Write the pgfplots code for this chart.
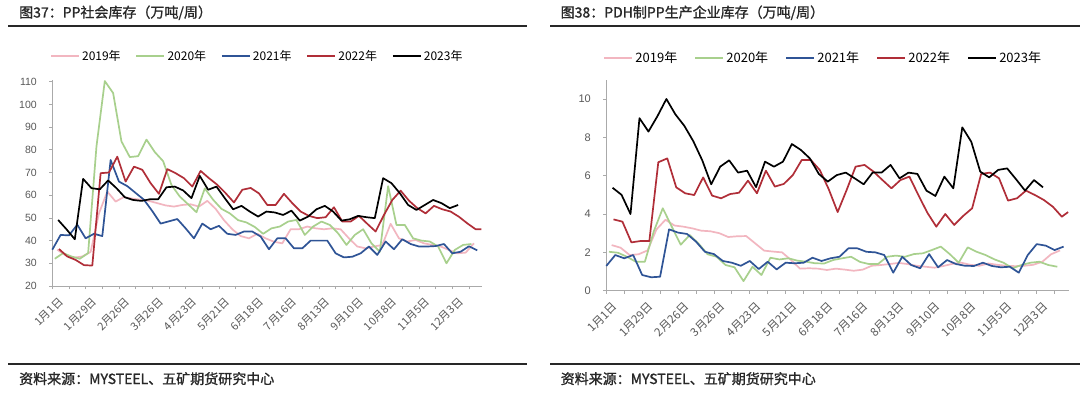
\documentclass[border=0pt]{standalone}
\usepackage{fontspec}
\setmainfont{Liberation Sans}
\newfontfamily\cjk{Noto Sans CJK SC}
\newfontfamily\cjkt[FakeBold=1.3]{Noto Sans CJK SC}
\usepackage{pgfplots}
\pgfplotsset{compat=1.18}
\definecolor{c19}{RGB}{242,182,192}
\definecolor{c20}{RGB}{168,208,141}
\definecolor{c21}{RGB}{47,84,150}
\definecolor{c22}{RGB}{176,46,56}
\definecolor{c23}{RGB}{0,0,0}
\definecolor{axgray}{RGB}{170,170,170}
\definecolor{tkgray}{RGB}{89,89,89}
\definecolor{ttl}{RGB}{40,40,40}
\pgfplotsset{
 mystyle/.style={
  scale only axis, axis lines*=left, clip=false,
  axis line style={draw=axgray, line width=0.8pt},
  tick style={draw=axgray, line width=0.8pt},
  tick align=outside, major tick length=3pt, minor tick length=3pt,
  xmin=0, xmax=51.6,
  xtick={0,4,...,48}, minor xtick={2,6,...,50},
  xticklabels={1月1日,1月29日,2月26日,3月26日,4月23日,5月21日,6月18日,7月16日,8月13日,9月10日,10月8日,11月5日,12月3日},
  x tick label style={rotate=45, anchor=east, text=tkgray, xshift=2pt, yshift=-14pt},
  y tick label style={text=tkgray, xshift=-9pt},
  /pgf/number format/assume math mode=true,
  legend columns=5,
  legend style={draw=none, fill=none, anchor=west},
  legend image code/.code={\draw[##1, line width=2.2pt] (0pt,0pt) -- (28pt,0pt);},
  every axis plot/.append style={line width=1.7pt, line join=round},
 }
}
\begin{document}
\begin{tikzpicture}[x=1pt,y=1pt]
\path[use as bounding box, fill=white] (0,0) rectangle (1080,-393);
% left frame texts
\node[anchor=base west, inner sep=0pt, text=ttl, font=\cjkt\fontsize{14}{16}\selectfont] at (19,-17.5) {图37：PP社会库存（万吨/周）};
\draw[ttl, line width=1.2pt] (8,-26) -- (527,-26);
\draw[ttl, line width=1.2pt] (8,-364) -- (527,-364);
\node[anchor=base west, inner sep=0pt, text=ttl, font=\cjkt\fontsize{14}{16}\selectfont] at (19,-384) {资料来源：MYSTEEL、五矿期货研究中心};
% right frame texts
\node[anchor=base west, inner sep=0pt, text=ttl, font=\cjkt\fontsize{14}{16}\selectfont] at (560.5,-17.5) {图38：PDH制PP生产企业库存（万吨/周）};
\draw[ttl, line width=1.2pt] (550,-26) -- (1080,-26);
\draw[ttl, line width=1.2pt] (550,-364) -- (1080,-364);
\node[anchor=base west, inner sep=0pt, text=ttl, font=\cjkt\fontsize{14}{16}\selectfont] at (560.5,-384) {资料来源：MYSTEEL、五矿期货研究中心};

\begin{axis}[mystyle, at={(52.3pt,-286pt)}, anchor=south west,
  width=430pt, height=206.1pt, ymin=20, ymax=110.8, ytick={20,30,...,110},
  x tick label style={font=\cjk\fontsize{11}{13}\selectfont},
  y tick label style={font=\fontsize{10.5}{12}\selectfont},
  legend style={at={(-0.013,1.116)}, font=\cjk\fontsize{12}{14}\selectfont,
    /tikz/every even column/.append style={column sep=12.6pt}}]
\addplot[c19] coordinates {(0.6,36)(1.6,33.5)(2.6,32.5)(3.6,33)(4.6,35)(5.6,52)(6.6,61.6)(7.6,57.2)(8.6,59.2)(9.6,58.5)(10.6,58)(11.6,57.5)(12.6,56.5)(13.6,55.5)(14.6,55)(15.6,55.7)(16.6,56)(17.6,55)(18.6,57.5)(19.6,54)(20.6,49)(21.6,45)(22.6,42)(23.6,41)(24.6,43)(25.6,41)(26.6,39.5)(27.6,38.8)(28.6,45)(29.6,45)(30.6,46.2)(31.6,45.4)(32.6,45)(33.6,45.4)(34.6,45)(35.6,41)(36.6,37.4)(37.6,36.6)(38.6,37.4)(39.6,38.1)(40.6,47.4)(41.6,41)(42.6,39.6)(43.6,40.3)(44.6,38.8)(45.6,38.1)(46.6,37.4)(47.6,35.9)(48.6,34.4)(49.6,34.7)(50.6,38.8)};
\addlegendentry{2019年}
\addplot[c20] coordinates {(0.3,32)(1.3,34.5)(2.3,33)(3.3,32)(4.3,34.5)(5.3,81.5)(6.3,110.3)(7.3,105)(8.3,83.7)(9.3,76.8)(10.3,77.2)(11.3,84.5)(12.3,79)(13.3,75)(14.3,64.5)(15.3,59.4)(16.3,56)(17.3,52.5)(18.3,63)(19.3,58)(20.3,54)(21.3,52)(22.3,49)(23.3,48)(24.3,46)(25.3,43)(26.3,45.4)(27.3,46.2)(28.3,48.4)(29.3,49.1)(30.3,42.5)(31.3,46.2)(32.3,48.4)(33.3,46.9)(34.3,43.2)(35.3,38.1)(36.3,42.5)(37.3,45)(38.3,38.8)(39.3,35.1)(40.3,64)(41.3,46.9)(42.3,46.9)(43.3,41)(44.3,40)(45.3,39.6)(46.3,37.4)(47.3,30)(48.3,35.9)(49.3,38.1)(50.3,38.5)};
\addlegendentry{2020年}
\addplot[c21] coordinates {(0,36)(1,42.5)(2,42.3)(3,47)(4,41)(5,43)(6,42)(7,75.5)(8,66)(9,64)(10,61)(11,58)(12,53)(13,47.5)(14,48.5)(15,49.5)(16,45.4)(17,41)(18,47.5)(19,45)(20,46.5)(21,43)(22,42.5)(23,44)(24,44)(25,41.8)(26,36.2)(27,41)(28,41)(29,36.6)(30,36.6)(31,40)(32,40)(33,40)(34,34.4)(35,32.6)(36,32.9)(37,34.4)(38,37.4)(39,33.7)(40,39.6)(41,36.2)(42,40.6)(43,38.5)(44,37.4)(45,37.4)(46,37.6)(47,38.5)(48,34.4)(49,35.1)(50,37.5)(51,35.7)};
\addlegendentry{2021年}
\addplot[c22] coordinates {(0.8,36.3)(1.8,33)(2.8,31.5)(3.8,29.2)(4.8,29)(5.8,69.7)(6.8,70)(7.8,77)(8.8,66)(9.8,72.6)(10.8,71.2)(11.8,65.3)(12.8,60.6)(13.8,71.5)(14.8,69.7)(15.8,67.5)(16.8,63.8)(17.8,70.7)(18.8,67.5)(19.8,64.6)(20.8,60.9)(21.8,56.8)(22.8,62.4)(23.8,63.2)(24.8,60.8)(25.8,55.7)(26.8,55.7)(27.8,60.6)(28.8,56.5)(29.8,52.8)(30.8,50.9)(31.8,49.9)(32.8,50.3)(33.8,54.7)(34.8,48.4)(35.8,48.4)(36.8,50.9)(37.8,47.4)(38.8,44)(39.8,51.3)(40.8,57.9)(41.8,62)(42.8,57.6)(43.8,54.3)(44.8,52)(45.8,55.3)(46.8,53.8)(47.8,52.8)(48.8,50.5)(49.8,47.6)(50.8,45)(51.5,45)};
\addlegendentry{2022年}
\addplot[c23] coordinates {(0.7,49.1)(1.7,45)(2.7,40.6)(3.7,67.2)(4.7,63.1)(5.7,62.6)(6.7,66.5)(7.7,63.1)(8.7,59.1)(9.7,57.9)(10.7,57.5)(11.7,58.2)(12.7,58.2)(13.7,63.5)(14.7,63.8)(15.7,62.1)(16.7,58.7)(17.7,68.5)(18.7,62.4)(19.7,63.8)(20.7,58.7)(21.7,53.8)(22.7,55.3)(23.7,52.8)(24.7,50.6)(25.7,52.8)(26.7,52.4)(27.7,51.3)(28.7,53.2)(29.7,48.8)(30.7,50.6)(31.7,53.8)(32.7,55.3)(33.7,52.8)(34.7,48.8)(35.7,49.4)(36.7,50.9)(37.7,50.3)(38.7,49.9)(39.7,67.5)(40.7,65.3)(41.7,60.9)(42.7,55.7)(43.7,53.5)(44.7,55.7)(45.7,57.9)(46.7,56.5)(47.7,54.3)(48.7,55.7)};
\addlegendentry{2023年}
\end{axis}

\begin{axis}[mystyle, at={(606.3pt,-290.7pt)}, anchor=south west,
  width=462.7pt, height=210.9pt, ymin=0, ymax=11, ytick={0,2,...,10},
  x tick label style={font=\cjk\fontsize{11.5}{13}\selectfont},
  y tick label style={font=\fontsize{11}{13}\selectfont},
  legend style={at={(-0.0136,1.103)}, font=\cjk\fontsize{13}{15}\selectfont,
    /tikz/every even column/.append style={column sep=14.9pt}}]
\addplot[c19] coordinates {(0.6,2.38)(1.6,2.24)(2.6,1.86)(3.6,1.9)(4.6,2.1)(5.6,3.2)(6.6,3.7)(7.6,3.4)(8.6,3.34)(9.6,3.25)(10.6,3.13)(11.6,3.1)(12.6,3.0)(13.6,2.8)(14.6,2.84)(15.6,2.85)(16.6,2.47)(17.6,2.09)(18.6,2.04)(19.6,2.0)(20.6,1.6)(21.6,1.15)(22.6,1.17)(23.6,1.15)(24.6,1.08)(25.6,1.15)(26.6,1.1)(27.6,1.04)(28.6,1.1)(29.6,1.3)(30.6,1.34)(31.6,1.39)(32.6,1.45)(33.6,1.39)(34.6,1.3)(35.6,1.25)(36.6,1.2)(37.6,1.29)(38.6,1.4)(39.6,1.46)(40.6,1.35)(41.6,1.3)(42.6,1.42)(43.6,1.35)(44.6,1.3)(45.6,1.28)(46.6,1.3)(47.6,1.35)(48.6,1.5)(49.6,1.9)(50.6,2.1)};
\addlegendentry{2019年}
\addplot[c20] coordinates {(0.3,2.03)(1.3,1.98)(2.3,1.77)(3.3,1.51)(4.3,1.51)(5.3,3.1)(6.3,4.3)(7.3,3.34)(8.3,2.4)(9.3,2.9)(10.3,2.45)(11.3,1.9)(12.3,1.77)(13.3,1.34)(14.3,1.22)(15.3,0.5)(16.3,1.25)(17.3,0.82)(18.3,1.72)(19.3,1.63)(20.3,1.69)(21.3,1.57)(22.3,1.51)(23.3,1.43)(24.3,1.42)(25.3,1.6)(26.3,1.69)(27.3,1.77)(28.3,1.5)(29.3,1.39)(30.3,1.39)(31.3,1.77)(32.3,1.83)(33.3,1.77)(34.3,1.91)(35.3,1.95)(36.3,2.12)(37.3,2.3)(38.3,1.91)(39.3,1.46)(40.3,2.26)(41.3,2.03)(42.3,1.86)(43.3,1.63)(44.3,1.46)(45.3,1.17)(46.3,1.34)(47.3,1.46)(48.3,1.51)(49.3,1.34)(50.3,1.25)};
\addlegendentry{2020年}
\addplot[c21] coordinates {(0,1.29)(1,1.86)(2,1.69)(3,1.86)(4,0.82)(5,0.7)(6,0.73)(7,3.2)(8,3.03)(9,2.96)(10,2.56)(11,2.03)(12,1.91)(13,1.55)(14,1.46)(15,1.3)(16,1.55)(17,1.13)(18,1.51)(19,1.11)(20,1.46)(21,1.43)(22,1.46)(23,1.72)(24,1.55)(25,1.69)(26,1.77)(27,2.21)(28,2.21)(29,2.03)(30,2.0)(31,1.86)(32,0.94)(33,1.77)(34,1.34)(35,1.17)(36,1.91)(37,1.22)(38,1.6)(39,1.39)(40,1.3)(41,1.29)(42,1.46)(43,1.29)(44,1.22)(45,1.25)(46,0.94)(47,1.86)(48,2.43)(49,2.35)(50,2.12)(51,2.3)};
\addlegendentry{2021年}
\addplot[c22] coordinates {(0.8,3.72)(1.8,3.6)(2.8,2.52)(3.8,2.59)(4.8,2.59)(5.8,6.7)(6.8,6.9)(7.8,5.39)(8.8,5.08)(9.8,4.99)(10.8,5.91)(11.8,4.96)(12.8,4.82)(13.8,5.04)(14.8,5.11)(15.8,5.74)(16.8,5.08)(17.8,6.26)(18.8,5.43)(19.8,5.57)(20.8,6.03)(21.8,6.82)(22.8,6.82)(23.8,6.3)(24.8,5.3)(25.8,4.1)(26.8,5.25)(27.8,6.47)(28.8,6.56)(29.8,6.21)(30.8,5.77)(31.8,5.34)(32.8,5.77)(33.8,5.95)(34.8,4.99)(35.8,4.07)(36.8,3.34)(37.8,4.0)(38.8,3.43)(39.8,3.9)(40.8,4.3)(41.8,6.09)(42.8,6.16)(43.8,5.86)(44.8,4.7)(45.8,4.82)(46.8,5.22)(47.8,4.99)(48.8,4.73)(49.8,4.38)(50.8,3.86)(51.5,4.1)};
\addlegendentry{2022年}
\addplot[c23] coordinates {(0.7,5.37)(1.7,5.0)(2.7,4.0)(3.7,9.0)(4.7,8.3)(5.7,9.1)(6.7,10.0)(7.7,9.2)(8.7,8.6)(9.7,7.8)(10.7,6.8)(11.7,5.55)(12.7,6.47)(13.7,6.8)(14.7,6.16)(15.7,6.26)(16.7,5.4)(17.7,6.73)(18.7,6.47)(19.7,6.73)(20.7,7.65)(21.7,7.34)(22.7,6.9)(23.7,6.09)(24.7,5.69)(25.7,6.03)(26.7,6.16)(27.7,5.86)(28.7,5.55)(29.7,6.16)(30.7,6.16)(31.7,6.56)(32.7,5.86)(33.7,6.16)(34.7,6.09)(35.7,5.22)(36.7,4.94)(37.7,5.95)(38.7,5.34)(39.7,8.52)(40.7,7.77)(41.7,6.21)(42.7,5.91)(43.7,6.3)(44.7,6.38)(45.7,5.81)(46.7,5.22)(47.7,5.77)(48.7,5.39)};
\addlegendentry{2023年}
\end{axis}
\end{tikzpicture}
\end{document}
